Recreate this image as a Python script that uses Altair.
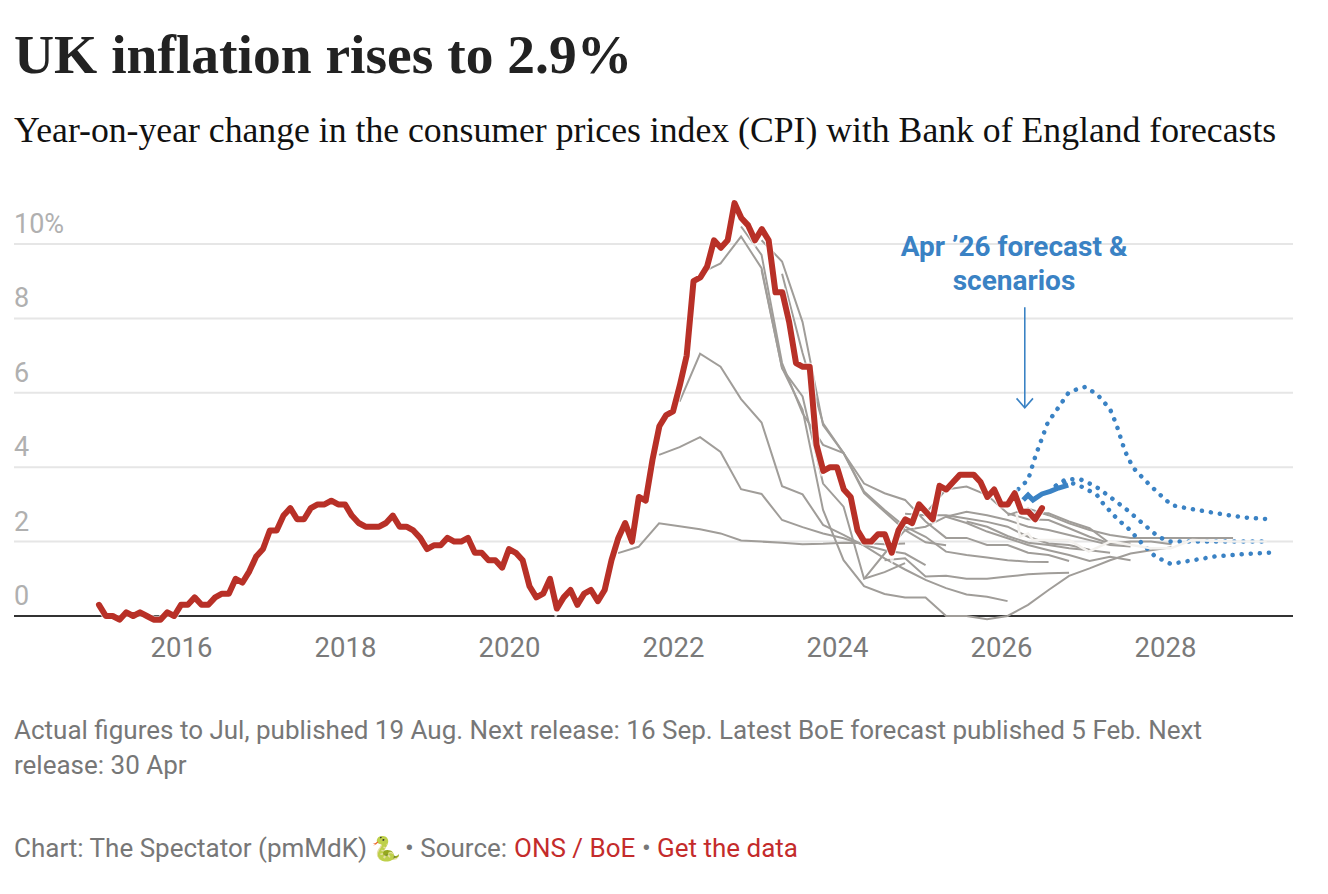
import altair as alt
import pandas as pd

# Actual CPI, monthly from Jan 2015
cpi = [0.3,0.0,0.0,-0.1,0.1,0.0,0.1,0.0,-0.1,-0.1,0.1,0.0,
       0.3,0.3,0.5,0.3,0.3,0.5,0.6,0.6,1.0,0.9,1.2,1.6,
       1.8,2.3,2.3,2.7,2.9,2.6,2.6,2.9,3.0,3.0,3.1,3.0,
       3.0,2.7,2.5,2.4,2.4,2.4,2.5,2.7,2.4,2.4,2.3,2.1,
       1.8,1.9,1.9,2.1,2.0,2.0,2.1,1.7,1.7,1.5,1.5,1.3,
       1.8,1.7,1.5,0.8,0.5,0.6,1.0,0.2,0.5,0.7,0.3,0.6,
       0.7,0.4,0.7,1.5,2.1,2.5,2.0,3.2,3.1,4.2,5.1,5.4,
       5.5,6.2,7.0,9.0,9.1,9.4,10.1,9.9,10.1,11.1,10.7,10.5,
       10.1,10.4,10.1,8.7,8.7,7.9,6.8,6.7,6.7,4.6,3.9,4.0,
       4.0,3.4,3.2,2.3,2.0,2.0,2.2,2.2,1.7,2.3,2.6,2.5,
       3.0,2.8,2.6,3.5,3.4,3.6,3.8,3.8,3.8,3.6,3.2,3.4,
       3.0,3.0,3.3,2.8,2.8,2.6,2.9]

# Past BoE forecasts: (first quarter index from May 2021, quarterly values)
past = [
 (0,[1.69,1.86,2.49,2.41,2.33,2.22,2.03,2.00,1.97,1.93,1.94,1.97,1.96,1.93,1.95]),
 (2,[4.33,4.54,4.81,4.41,3.41,3.28,2.58,2.39,2.22,2.09,1.91,1.77,1.68,1.37]),
 (3,[5.76,7.05,6.7,5.83,5.2,3.49,3.27,2.45,2.18,1.89,1.55,1.25,0.97,0.75,0.58,0.52,0.40]),
 (4,[9.21,9.48,10.2,9.35,6.66,5.9,3.56,2.94,1.0,1.18,1.42]),
 (6,[10.47,9.71,6.8,5.45,4.6,4.38,3.35,2.85,2.4,2.13,1.73,1.64,1.57,1.5,1.46,1.45]),
 (7,[10.1,9.53,7.9,5.13,4.38,3.56,3.3,3.12,2.54,2.1,2.1,1.91,1.91,1.7,1.64,1.48]),
 (7,[9.3,6.67,5.54,2.85,1.5,0.8,0.59,0.5,0.5,0.0,0.0,-0.09,0.0,0.3,0.7,1.08,1.28,1.5,1.68,1.77,1.85]),
 (8,[9.2,7.07,5.18,4.38,3.3,2.8,2.31,1.98,1.9]),
 (12,[1.0,1.68,2.31,2.4,2.67,2.8,2.71,2.58,2.4,2.31,2.18,2.04,1.91,1.87]),
 (14,[2.75,2.71,2.71,2.62,2.53,2.40,2.13,1.95,1.91,1.78]),
 (13,[1.5,1.55,1.06,1.08,1.0,1.0,1.06,1.12,1.15,1.16]),
 (16,[2.67,2.5,2.27,2.09,1.91,1.77,1.64,1.48,1.59,1.5]),
 (17,[2.54,2.4,2.15,1.97,1.91,1.82,1.77,1.7]),
 (15,[2.76,3.4,3.48,3.25,2.76,2.6,2.58,2.36,2.13,1.95,1.95]),
 (19,[2.71,2.89,2.71,2.49,2.31,2.18,2.1,2.1,2.1,2.1,2.1,2.1]),
 (20,[2.76,2.76,2.54,2.36,1.95,2.0,2.0,1.93]),
]

pale_x = [2026.19,2026.23,2026.33,2026.39,2026.83,2027.07,2027.33,2027.83,2028.07,2028.33,2028.83,2029.24]
pale_y = [2.76,2.13,2.22,2.04,2.04,1.73,2.0,1.82,1.82,2.04,2.0,2.0]

blue_x = [2026.27,2026.33,2026.39,2026.50,2026.60,2026.70,2026.82]
blue_y = [3.12,3.25,3.12,3.28,3.35,3.44,3.52]

s1_x = [2026.21,2026.33,2026.42,2026.50,2026.57,2026.68,2026.82,2026.92,2027.03,2027.18,2027.33,2027.41,2027.51,2027.61,2027.76,2027.92,2028.08,2028.31,2028.63,2028.96,2029.28]
s1_y = [3.41,3.66,4.30,4.78,5.2,5.54,5.99,6.09,6.16,5.94,5.56,5.13,4.44,3.99,3.64,3.3,2.98,2.88,2.76,2.65,2.6]
s2_x = [2026.67,2026.78,2026.88,2026.98,2027.09,2027.19,2027.36,2027.55,2027.70,2027.87,2027.96,2028.06,2028.20,2029.28]
s2_y = [3.5,3.66,3.68,3.66,3.55,3.43,3.15,2.83,2.54,2.22,2.09,2.0,2.0,2.0]
s3_x = [2026.67,2026.80,2026.90,2027.0,2027.10,2027.17,2027.25,2027.43,2027.55,2027.72,2027.88,2028.07,2028.29,2028.61,2028.94,2029.27]
s3_y = [3.5,3.61,3.55,3.46,3.34,3.25,3.01,2.58,2.36,1.95,1.6,1.40,1.48,1.6,1.66,1.7]

x_ticks = [2016,2018,2020,2022,2024,2026,2028]
y_grid = [2,4,6,8,10]
y_labels = [0,2,4,6,8,10]
y_text = ["0","2","4","6","8","10%"]

TOP, LEFT, W, H = 190, 14, 1279, 426
x_scale = alt.Scale(domain=[2016-(181-14)/82, 2016+(1293-181)/82], nice=False, zero=False)
y_scale = alt.Scale(domain=[0, 426/37.2], nice=False, zero=False)

X = alt.X("x:Q", scale=x_scale, title=None,
          axis=alt.Axis(values=x_ticks, format="d", domain=False, ticks=False, grid=False,
                        labelFont="Roboto", labelFontSize=27.5, labelColor="#7a7a7a", labelPadding=18))
Y = alt.Y("y:Q", scale=y_scale, title=None, axis=None)

def df(xs, ys, key="a"):
    return pd.DataFrame({"x": xs, "y": ys, "k": key})

actual = df([2015 + i/12 for i in range(len(cpi))], cpi)
grey = pd.concat([df([2021.33 + 0.25*(s+i) for i in range(len(v))], v, str(n))
                  for n, (s, v) in enumerate(past)])
pale = df(pale_x, pale_y)
blue = df(blue_x, blue_y)
dots = pd.concat([df(s1_x, s1_y, "s1"), df(s2_x, s2_y, "s2"), df(s3_x, s3_y, "s3")])

grid = alt.Chart(pd.DataFrame({"y": y_grid})).mark_rule(color="#e6e6e6", strokeWidth=2).encode(
    y=alt.Y("y:Q", scale=y_scale, axis=None, title=None))
base_rule = alt.Chart(pd.DataFrame({"y": [0]})).mark_rule(color="#333333", strokeWidth=2).encode(
    y=alt.Y("y:Q", scale=y_scale, axis=None, title=None))
ylab = alt.Chart(pd.DataFrame({"y": y_labels, "t": y_text})).mark_text(
    font="Roboto", fontSize=27, color="#b0b0b0", align="left", baseline="middle", dy=-19
).encode(x=alt.value(0), y=alt.Y("y:Q", scale=y_scale, axis=None, title=None), text="t:N")

line = lambda d, **kw: alt.Chart(d).mark_line(interpolate="linear", **kw).encode(x=X, y=Y, detail="k:N")

grey_l = line(grey, color="#a09d99", strokeWidth=2)
dots_l = line(dots, color="#3a82c4", strokeWidth=4.5, strokeDash=[0.1, 9], strokeCap="round")
pale_l = line(pale, color="#f4f2ef", strokeWidth=2.5)
blue_l = line(blue, color="#3a82c4", strokeWidth=5)
halo_l = line(actual, color="#ffffff", strokeWidth=8, opacity=0.7)
red_l = line(actual, color="#b83027", strokeWidth=6, strokeJoin="round", strokeCap="round")

arrow_shaft = alt.Chart(df([2026.29, 2026.29], [8.3, 5.6])).mark_line(color="#3a82c4", strokeWidth=1.6).encode(x=X, y=Y)
arrow_head = alt.Chart(df([2026.19, 2026.29, 2026.39], [5.85, 5.6, 5.85])).mark_line(color="#3a82c4", strokeWidth=1.6).encode(x=X, y=Y)

def txt(t, px, py, size, color, font="Roboto", weight="normal", align="left"):
    return alt.Chart(pd.DataFrame({"t": [t]})).mark_text(
        font=font, fontSize=size, color=color, fontWeight=weight, align=align, baseline="alphabetic"
    ).encode(x=alt.value(px-LEFT), y=alt.value(py-TOP), text="t:N")

FS = 26
texts = [
    txt("UK inflation rises to 2.9%", 14, 73, 55.5, "#222222", "Liberation Serif", "bold"),
    txt("Year-on-year change in the consumer prices index (CPI) with Bank of England forecasts", 14, 142, 35.7, "#111111", "Liberation Serif"),
    txt("Apr ’26 forecast &", 1014, 256, 28, "#3a82c4", weight="bold", align="center"),
    txt("scenarios", 1014, 290, 28, "#3a82c4", weight="bold", align="center"),
    txt("Actual figures to Jul, published 19 Aug. Next release: 16 Sep. Latest BoE forecast published 5 Feb. Next", 14, 739, FS, "#777777"),
    txt("release: 30 Apr", 14, 774, FS, "#777777"),
    txt("Chart: The Spectator (pmMdK)", 14, 857, FS, "#777777"),
    txt("🐍", 371, 857, 24, "#777777"),
    txt("• Source:", 405, 857, FS, "#777777"),
    txt("ONS / BoE", 514, 857, FS, "#c42b2b"),
    txt("•", 642, 857, FS, "#777777"),
    txt("Get the data", 657, 857, FS, "#c42b2b"),
]

chart = alt.layer(grid, base_rule, ylab, grey_l, dots_l, pale_l, blue_l, halo_l, red_l,
                  arrow_shaft, arrow_head, *texts).properties(
    width=W, height=H,
    padding={"left": LEFT-8, "top": TOP-8, "right": 20, "bottom": 270},
    autosize=alt.AutoSizeParams(type="none"),
    background="white",
).configure_view(stroke=None)

chart.save("out.html", embed_options={"renderer": "svg", "actions": False})
